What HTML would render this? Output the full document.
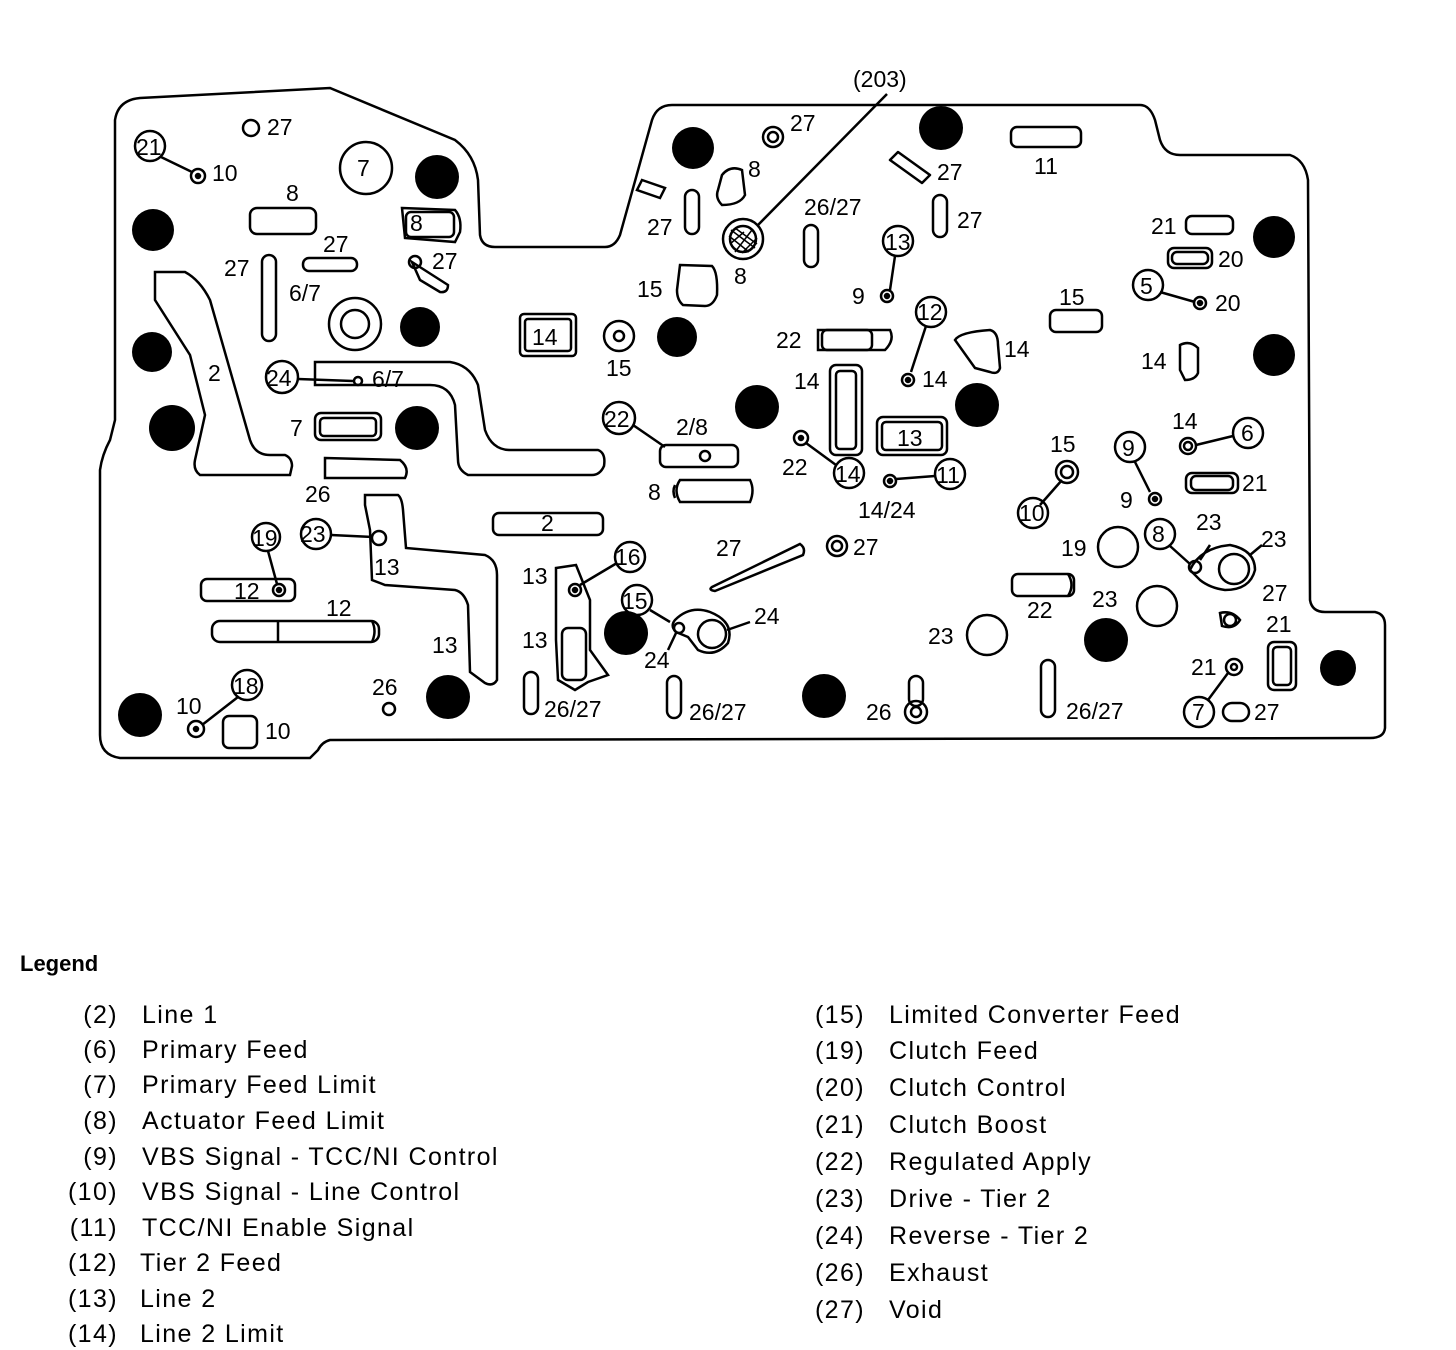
<!DOCTYPE html>
<html><head><meta charset="utf-8"><style>
html,body{margin:0;padding:0;background:#fff;}
svg{display:block;}
text{font-family:"Liberation Sans",sans-serif;fill:#000;}
.l{font-size:23px;}
.g{font-size:25px;letter-spacing:1.4px;}
</style></head><body>
<svg width="1456" height="1350" viewBox="0 0 1456 1350" xmlns="http://www.w3.org/2000/svg">
<g fill="none" stroke="#000" stroke-width="2.5">
<path d="M140,98 L330,88 L455,140 Q475,155 478,180 L480,235 Q482,247 495,247 L605,247 Q615,247 620,235 L652,120 Q657,105 672,105 L1140,105 Q1150,105 1155,120 L1160,140 Q1165,155 1180,155 L1290,155 Q1305,160 1308,180 L1310,600 Q1312,612 1325,612 L1375,612 Q1385,614 1385,625 L1385,728 Q1384,738 1370,738 L330,740 Q322,742 318,750 L310,758 L120,758 Q100,755 100,735 L100,470 Q102,455 110,440 L115,420 L115,120 Q118,100 140,98 Z"/>
<path d="M155,272 L185,272 Q200,280 210,300 L250,440 Q255,455 270,455 L285,455 Q292,458 292,466 L290,475 L200,475 Q193,470 195,460 L205,415 L190,355 L155,300 Z"/>
<path d="M315,362 L450,362 Q470,365 478,385 L485,430 Q492,450 510,450 L598,450 Q606,453 604,466 Q600,475 592,475 L468,475 Q458,470 458,460 L455,405 Q450,385 430,385 L315,385 Z"/>
<path d="M365,495 L398,495 Q402,498 403,510 L406,548 L485,555 Q497,560 497,575 L497,680 Q493,687 485,683 L470,672 L468,605 Q464,592 455,590 L385,585 L372,580 L370,530 L365,505 Z"/>
<path d="M556,568 L576,565 L590,600 L590,650 L608,675 L588,682 L575,690 L558,680 L556,640 Z"/>
<rect x="520" y="314" width="56" height="42" rx="4"/><rect x="525" y="319" width="46" height="32" rx="3"/>
<rect x="250" y="208" width="66" height="26" rx="7"/>
<path d="M402,208 L455,210 Q462,218 460,232 L455,242 L405,238 Z"/><rect x="406" y="212" width="48" height="25" rx="5"/>
<rect x="303" y="258" width="54" height="13" rx="6"/>
<rect x="262" y="255" width="14" height="86" rx="7"/>
<path d="M412,262 L448,285 Q448,293 440,292 L420,280 Z"/><circle cx="415" cy="262" r="6"/>
<circle cx="355" cy="324" r="26"/><circle cx="355" cy="324" r="14"/>
<circle cx="366" cy="168" r="26"/>
<circle cx="251" cy="128" r="8"/>
<circle cx="150" cy="146" r="15"/><path d="M161,157 L192,172"/><circle cx="198" cy="176" r="7"/><circle cx="198" cy="176" r="2" fill="#000"/>
<circle cx="282" cy="377" r="16"/><path d="M298,379 L353,381"/><circle cx="358" cy="381" r="4"/>
<rect x="315" y="413" width="66" height="27" rx="6"/><rect x="320" y="418" width="56" height="18" rx="4"/>
<path d="M325,458 L400,460 Q410,468 405,478 L325,478 Z"/>
<circle cx="316" cy="534" r="15"/><path d="M331,535 L373,537"/><circle cx="379" cy="538" r="7"/>
<circle cx="266" cy="537" r="14"/><path d="M268,551 L277,584"/><circle cx="279" cy="590" r="6"/><circle cx="279" cy="590" r="2" fill="#000"/>
<rect x="201" y="579" width="94" height="22" rx="6"/>
<rect x="212" y="621" width="167" height="21" rx="8"/><path d="M278,621 L278,642"/><path d="M372,621 Q377,631 372,642"/>
<circle cx="247" cy="685" r="15"/><path d="M238,697 L202,725"/><circle cx="196" cy="729" r="8"/><circle cx="196" cy="729" r="2" fill="#000"/>
<rect x="223" y="716" width="34" height="32" rx="6"/>
<circle cx="389" cy="709" r="6"/>
<rect x="493" y="513" width="110" height="22" rx="6"/>
<path d="M642,180 L665,188 L660,198 L637,190 Z" />
<rect x="685" y="190" width="14" height="44" rx="7"/>
<circle cx="773" cy="137" r="10"/><circle cx="773" cy="137" r="5"/>
<path d="M722,175 Q730,165 742,170 L745,195 Q740,205 722,205 Q715,198 718,190 Z"/>
<circle cx="743" cy="239" r="20"/><circle cx="743" cy="239" r="13"/>
<path d="M731,230 L755,248 M735,228 L757,244 M729,236 L749,252 M735,252 L752,230 M730,244 L744,232 M742,253 L757,238" stroke-width="1.5"/>
<path d="M758,225 L887,94"/>
<path d="M680,265 L712,266 Q718,272 717,295 Q713,306 705,306 L683,305 Q677,300 677,290 Z"/>
<circle cx="619" cy="336" r="15"/><circle cx="619" cy="336" r="5"/>
<rect x="804" y="225" width="14" height="42" rx="7"/>
<path d="M890,160 L898,152 L930,175 L922,183 Z" stroke-linejoin="round"/>
<rect x="933" y="195" width="14" height="42" rx="7"/>
<rect x="1011" y="127" width="70" height="20" rx="6"/>
<circle cx="898" cy="241" r="15"/><path d="M895,256 L890,290"/><circle cx="887" cy="296" r="6"/><circle cx="887" cy="296" r="2" fill="#000"/>
<path d="M818,330 L890,330 Q895,340 885,350 L818,350 Z"/><rect x="822" y="330" width="50" height="20" rx="5"/>
<circle cx="931" cy="312" r="15"/><path d="M926,326 L911,372"/><circle cx="908" cy="380" r="6"/><circle cx="908" cy="380" r="2" fill="#000"/>
<path d="M955,340 Q960,332 990,330 Q998,332 998,345 L1000,368 Q998,375 990,372 L975,368 Z"/>
<rect x="1050" y="310" width="52" height="22" rx="6"/>
<rect x="830" y="365" width="32" height="90" rx="6"/><rect x="836" y="371" width="20" height="78" rx="4"/>
<rect x="877" y="417" width="70" height="38" rx="6"/><rect x="882" y="422" width="60" height="28" rx="4"/>
<circle cx="619" cy="418" r="16"/><path d="M633,425 L665,447"/>
<rect x="660" y="445" width="78" height="22" rx="6"/><circle cx="705" cy="456" r="5"/>
<path d="M680,480 L750,480 Q755,490 750,502 L680,502 Q673,490 680,480 Z"/><path d="M675,485 Q672,491 675,498"/>
<circle cx="801" cy="438" r="7"/><circle cx="801" cy="438" r="2" fill="#000"/><path d="M806,443 L836,465"/>
<circle cx="849" cy="473" r="15"/>
<circle cx="890" cy="481" r="6"/><circle cx="890" cy="481" r="2" fill="#000"/><path d="M896,479 L935,476"/>
<circle cx="950" cy="474" r="15"/>
<path d="M712,587 L800,544 Q806,548 803,555 L715,591 Q708,590 712,587 Z"/>
<circle cx="837" cy="546" r="10"/><circle cx="837" cy="546" r="5"/>
<circle cx="630" cy="557" r="15"/><path d="M617,563 L580,585"/><circle cx="575" cy="590" r="6"/><circle cx="575" cy="590" r="2" fill="#000"/>
<rect x="562" y="628" width="24" height="52" rx="6"/>
<circle cx="637" cy="600" r="15"/><path d="M650,610 L670,622"/>
<path d="M675,620 Q690,605 710,612 Q735,622 728,643 Q715,658 698,650 L688,637 L676,632 Q670,626 675,620 Z"/><circle cx="712" cy="634" r="14"/><circle cx="679" cy="628" r="5"/><path d="M727,630 L750,622 M676,633 L668,650"/>
<rect x="524" y="672" width="14" height="42" rx="7"/><rect x="667" y="676" width="14" height="42" rx="7"/>
<rect x="909" y="676" width="14" height="30" rx="7"/><circle cx="916" cy="712" r="11"/><circle cx="916" cy="712" r="5"/>
<rect x="1041" y="660" width="14" height="57" rx="7"/>
<circle cx="1067" cy="472" r="11"/><circle cx="1067" cy="472" r="6"/><path d="M1062,480 L1040,505"/>
<circle cx="1033" cy="513" r="15"/>
<rect x="1012" y="574" width="62" height="22" rx="6"/><path d="M1068,574 Q1075,585 1068,596"/>
<circle cx="1118" cy="547" r="20"/><circle cx="1157" cy="606" r="20"/><circle cx="987" cy="635" r="20"/>
<circle cx="1130" cy="447" r="15"/><path d="M1135,462 L1150,492"/><circle cx="1155" cy="499" r="6"/><circle cx="1155" cy="499" r="2" fill="#000"/>
<circle cx="1160" cy="534" r="15"/><path d="M1170,546 L1190,564"/>
<path d="M1190,570 Q1200,548 1230,545 Q1255,550 1255,570 Q1250,590 1225,590 Q1210,588 1200,580 Z"/><circle cx="1234" cy="569" r="15"/><circle cx="1195" cy="567" r="6"/><path d="M1200,560 L1210,545 M1250,555 L1262,545"/>
<rect x="1186" y="473" width="52" height="20" rx="6"/><rect x="1191" y="476" width="42" height="14" rx="5"/>
<circle cx="1188" cy="446" r="8"/><circle cx="1188" cy="446" r="4"/><path d="M1196,445 L1233,436"/>
<circle cx="1248" cy="433" r="15"/>
<path d="M1180,345 Q1190,340 1198,348 L1198,373 Q1195,380 1185,380 L1180,370 Z"/>
<circle cx="1148" cy="285" r="15"/><path d="M1160,292 L1195,302"/><circle cx="1200" cy="303" r="6"/><circle cx="1200" cy="303" r="2" fill="#000"/>
<rect x="1168" y="248" width="44" height="20" rx="6"/><rect x="1172" y="252" width="36" height="12" rx="5"/>
<rect x="1186" y="216" width="47" height="18" rx="6"/>
<path d="M1220,613 Q1232,610 1240,620 Q1234,630 1222,626 Z"/><circle cx="1230" cy="620" r="6"/>
<rect x="1268" y="642" width="28" height="48" rx="6"/><rect x="1273" y="647" width="18" height="38" rx="4"/>
<circle cx="1234" cy="667" r="8"/><circle cx="1234" cy="667" r="3"/><path d="M1228,673 L1208,700"/>
<circle cx="1199" cy="712" r="15"/>
<rect x="1223" y="703" width="26" height="18" rx="9"/>
</g>
<g fill="#000">
<circle cx="437" cy="177" r="22"/><circle cx="153" cy="230" r="21"/><circle cx="420" cy="327" r="20"/>
<circle cx="152" cy="352" r="20"/><circle cx="172" cy="428" r="23"/><circle cx="417" cy="428" r="22"/>
<circle cx="677" cy="337" r="20"/><circle cx="693" cy="148" r="21"/><circle cx="941" cy="128" r="22"/>
<circle cx="1274" cy="237" r="21"/><circle cx="1274" cy="355" r="21"/><circle cx="757" cy="407" r="22"/>
<circle cx="977" cy="405" r="22"/><circle cx="626" cy="633" r="22"/><circle cx="1106" cy="640" r="22"/>
<circle cx="1338" cy="668" r="18"/><circle cx="140" cy="715" r="22"/><circle cx="448" cy="697" r="22"/>
<circle cx="824" cy="696" r="22"/>
</g>
<g class="l">
<text x="853" y="87">(203)</text>
<text x="267" y="135">27</text><text x="136" y="155">21</text><text x="212" y="181">10</text><text x="357" y="176">7</text>
<text x="286" y="201">8</text><text x="410" y="231">8</text><text x="323" y="252">27</text><text x="224" y="276">27</text>
<text x="432" y="269">27</text><text x="289" y="301">6/7</text><text x="208" y="381">2</text><text x="266" y="386">24</text>
<text x="372" y="387">6/7</text><text x="290" y="436">7</text><text x="305" y="502">26</text><text x="300" y="542">23</text>
<text x="252" y="546">19</text><text x="374" y="575">13</text><text x="234" y="599">12</text><text x="326" y="616">12</text>
<text x="432" y="653">13</text><text x="233" y="694">18</text><text x="176" y="714">10</text><text x="265" y="739">10</text>
<text x="372" y="695">26</text><text x="541" y="531">2</text><text x="532" y="345">14</text>
<text x="790" y="131">27</text><text x="748" y="177">8</text><text x="647" y="235">27</text><text x="734" y="284">8</text>
<text x="637" y="297">15</text><text x="606" y="376">15</text><text x="804" y="215">26/27</text><text x="937" y="180">27</text>
<text x="957" y="228">27</text><text x="1034" y="174">11</text><text x="885" y="250">13</text><text x="852" y="304">9</text>
<text x="1059" y="305">15</text><text x="917" y="320">12</text><text x="776" y="348">22</text><text x="1004" y="357">14</text>
<text x="922" y="387">14</text><text x="794" y="389">14</text><text x="897" y="446">13</text><text x="604" y="427">22</text>
<text x="676" y="435">2/8</text><text x="648" y="500">8</text><text x="782" y="475">22</text><text x="835" y="482">14</text>
<text x="936" y="483">11</text><text x="858" y="518">14/24</text><text x="716" y="556">27</text><text x="853" y="555">27</text>
<text x="615" y="565">16</text><text x="522" y="584">13</text><text x="622" y="609">15</text><text x="522" y="648">13</text>
<text x="754" y="624">24</text><text x="644" y="668">24</text><text x="544" y="717">26/27</text><text x="689" y="720">26/27</text>
<text x="866" y="720">26</text><text x="1066" y="719">26/27</text><text x="1151" y="234">21</text><text x="1218" y="267">20</text>
<text x="1140" y="294">5</text><text x="1215" y="311">20</text><text x="1141" y="369">14</text><text x="1172" y="429">14</text>
<text x="1241" y="441">6</text><text x="1050" y="452">15</text><text x="1122" y="456">9</text><text x="1120" y="508">9</text>
<text x="1242" y="491">21</text><text x="1019" y="521">10</text><text x="1196" y="530">23</text><text x="1152" y="542">8</text>
<text x="1261" y="547">23</text><text x="1061" y="556">19</text><text x="1262" y="601">27</text><text x="1092" y="607">23</text>
<text x="1027" y="618">22</text><text x="1266" y="632">21</text><text x="928" y="644">23</text><text x="1191" y="675">21</text>
<text x="1192" y="720">7</text><text x="1254" y="720">27</text>
</g>
<text x="20" y="971" style="font-size:22px;font-weight:bold">Legend</text>
<g class="g">
<text x="118" y="1023" text-anchor="end">(2)</text><text x="142" y="1023">Line 1</text>
<text x="118" y="1058" text-anchor="end">(6)</text><text x="142" y="1058">Primary Feed</text>
<text x="118" y="1093" text-anchor="end">(7)</text><text x="142" y="1093">Primary Feed Limit</text>
<text x="118" y="1129" text-anchor="end">(8)</text><text x="142" y="1129">Actuator Feed Limit</text>
<text x="118" y="1165" text-anchor="end">(9)</text><text x="142" y="1165">VBS Signal - TCC/NI Control</text>
<text x="118" y="1200" text-anchor="end">(10)</text><text x="142" y="1200">VBS Signal - Line Control</text>
<text x="118" y="1236" text-anchor="end">(11)</text><text x="142" y="1236">TCC/NI Enable Signal</text>
<text x="118" y="1271" text-anchor="end">(12)</text><text x="140" y="1271">Tier 2 Feed</text>
<text x="118" y="1307" text-anchor="end">(13)</text><text x="140" y="1307">Line 2</text>
<text x="118" y="1342" text-anchor="end">(14)</text><text x="140" y="1342">Line 2 Limit</text>
<text x="865" y="1023" text-anchor="end">(15)</text><text x="889" y="1023">Limited Converter Feed</text>
<text x="865" y="1059" text-anchor="end">(19)</text><text x="889" y="1059">Clutch Feed</text>
<text x="865" y="1096" text-anchor="end">(20)</text><text x="889" y="1096">Clutch Control</text>
<text x="865" y="1133" text-anchor="end">(21)</text><text x="889" y="1133">Clutch Boost</text>
<text x="865" y="1170" text-anchor="end">(22)</text><text x="889" y="1170">Regulated Apply</text>
<text x="865" y="1207" text-anchor="end">(23)</text><text x="889" y="1207">Drive - Tier 2</text>
<text x="865" y="1244" text-anchor="end">(24)</text><text x="889" y="1244">Reverse - Tier 2</text>
<text x="865" y="1281" text-anchor="end">(26)</text><text x="889" y="1281">Exhaust</text>
<text x="865" y="1318" text-anchor="end">(27)</text><text x="889" y="1318">Void</text>
</g>
</svg>
</body></html>
